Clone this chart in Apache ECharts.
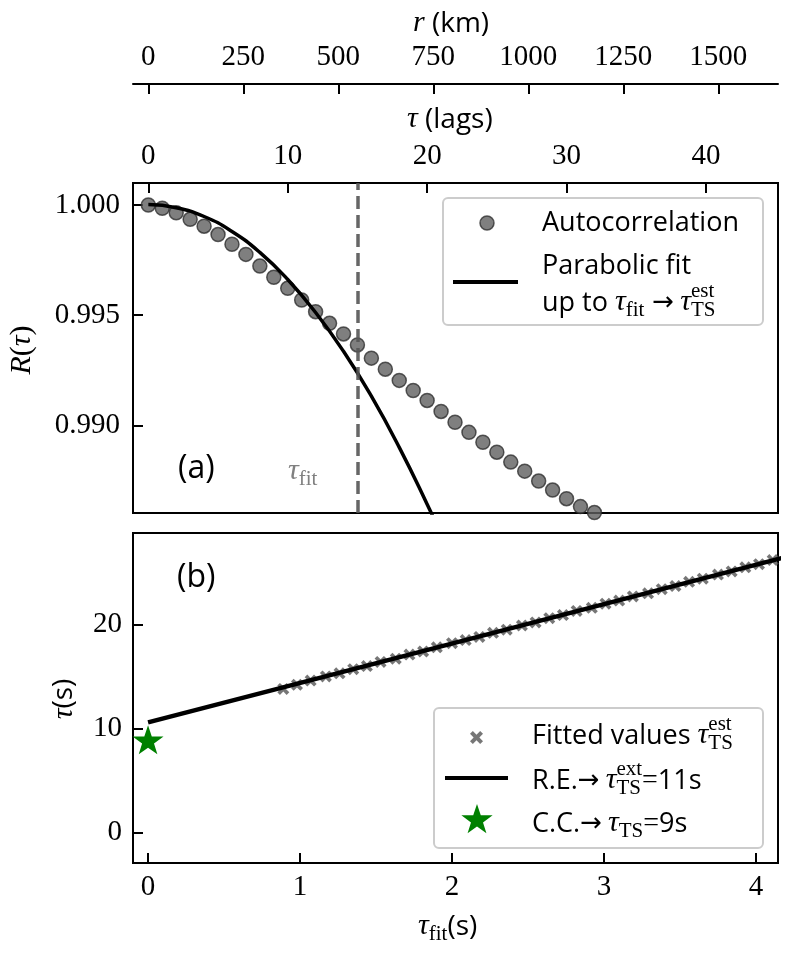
<!DOCTYPE html>
<html><head><meta charset="utf-8">
<script src="https://cdn.jsdelivr.net/npm/echarts@6/dist/echarts.min.js"></script>
<style>html,body{margin:0;padding:0;background:#fff}#c{width:788px;height:955px}</style>
</head><body><div id="c"></div>
<script>
// ---------------- data ----------------
const lags = [0,1,2,3,4,5,6,7,8,9,10,11,12,13,14,15,16,17,18,19,20,21,22,23,24,25,26,27,28,29,30,31,32];
const acf = [1.00000,0.99985,0.99965,0.99935,0.99904,0.99866,0.99822,0.99776,0.99723,0.99672,0.99622,0.99569,0.99516,0.99463,0.99415,0.99365,0.99305,0.99255,0.99204,0.99158,0.99113,0.99063,0.99014,0.98968,0.98923,0.98878,0.98833,0.98792,0.98747,0.98706,0.98667,0.98631,0.98604];
const fitLags = [0,2,4,6,8,10,12,14,16,18,20,21];
const fitR = [1.00002,0.99988,0.99948,0.99880,0.99785,0.99662,0.99512,0.99336,0.99132,0.98900,0.98642,0.98503];
const tauFitLag = 15;
const lagTicks = [0,10,20,30,40];
const rTicks = [0,250,500,750,1000,1250,1500];
const corrTicks = [0.990,0.995,1.000];
const tfitX = [0.89,0.98,1.07,1.17,1.26,1.35,1.44,1.53,1.63,1.72,1.81,1.90,2.00,2.09,2.18,2.27,2.36,2.46,2.55,2.64,2.73,2.82,2.92,3.01,3.10,3.19,3.29,3.38,3.47,3.56,3.65,3.75,3.84,3.93,4.02,4.11];
const tfitY = [13.8,14.2,14.6,15.0,15.3,15.7,16.0,16.4,16.7,17.1,17.4,17.8,18.2,18.5,18.8,19.2,19.5,19.9,20.2,20.6,20.9,21.3,21.6,22.0,22.3,22.7,23.0,23.4,23.7,24.1,24.4,24.8,25.1,25.5,25.8,26.2];
const reX = [0, 4.2];
const reY = [10.58, 26.5];
const ccX = [0];
const ccY = [8.9];
const tauFitTicks = [0,1,2,3,4];
const tauTicks = [0,10,20];

// ---------------- style ----------------
const SANS = '"Open Sans", sans-serif';
const SERIF = '"Liberation Serif", serif';
const ARROWF = '"DejaVu Sans", sans-serif';
const STAR_PTS = [[50,0],[61.8,35.1],[98.9,35.1],[68.8,57.6],[79.4,91.6],[50,70.7],[20.6,91.6],[31.2,57.6],[1.1,35.1],[38.2,35.1]];
const X_PTS = [[0,2.2],[2.2,0],[5,2.8],[7.8,0],[10,2.2],[7.2,5],[10,7.8],[7.8,10],[5,7.2],[2.2,10],[0,7.8],[2.8,5]];
function ptsToPath(p){ return 'path://M' + p.map(q=>q[0]+','+q[1]).join(' L') + ' Z'; }
function ptsAt(p, x, y, s){ return p.map(q=>[x + q[0]*s, y + q[1]*s]); }
const STAR = ptsToPath(STAR_PTS);
const XMARK = ptsToPath(X_PTS);
const dotFill = 'rgba(95,95,95,0.8)', dotStroke = 'rgba(40,40,40,0.75)';
const crossFill = 'rgba(85,85,85,0.8)';

const ctx = document.createElement('canvas').getContext('2d');
function measure(t, style, size, fam){ ctx.font = style + ' ' + size + 'px ' + fam; return ctx.measureText(t).width; }
function txt(x, base, t, fam, size, style, color){
  return {type:'text', x:x, y: base - 0.3*size, silent:true, z:100,
    style:{text:t, fontFamily:fam, fontSize:size, fontStyle:style, fill:color, align:'left', verticalAlign:'middle'}};
}
function mathRun(x0, base, parts, color){
  color = color || '#000';
  const out = []; let x = x0;
  for (const p of parts){
    const fam = p.f === 's' ? SANS : (p.f === 'a' ? ARROWF : SERIF);
    const st = p.it ? 'italic' : 'normal';
    const w = measure(p.t, st, p.s, fam);
    out.push(txt(x, base + (p.dy||0), p.t, fam, p.s, st, color));
    let adv = w;
    if (p.sup){
      out.push(txt(x, base + p.sup.dy, p.sup.t, SERIF, p.sup.s, 'normal', color));
      adv = Math.max(w, measure(p.sup.t, 'normal', p.sup.s, SERIF));
    }
    x += adv + (p.gap||0);
  }
  return out;
}
const TAU = {t:'τ', it:true, s:30};
const SUBFIT = {t:'fit', s:21, dy:6};
const ARROW = {t:'→', f:'a', s:26, gap:6};

const graphics = [];
// legend (a)
graphics.push({type:'rect', z:50, silent:true, shape:{x:443, y:198, width:320, height:127, r:5}, style:{fill:'rgba(255,255,255,0.85)', stroke:'#cccccc', lineWidth:2}});
graphics.push({type:'circle', z:51, silent:true, shape:{cx:487, cy:223, r:7}, style:{fill:dotFill, stroke:dotStroke, lineWidth:1.5}});
graphics.push({type:'line', z:51, silent:true, shape:{x1:453, y1:282, x2:518, y2:282}, style:{stroke:'#000', lineWidth:4}});
graphics.push(...mathRun(542, 231, [{t:'Autocorrelation', f:'s', s:27}]));
graphics.push(...mathRun(542, 274, [{t:'Parabolic fit', f:'s', s:27}]));
graphics.push(...mathRun(542, 311, [{t:'up to ', f:'s', s:27}, TAU, {t:'fit', s:21, dy:6, gap:8}, ARROW, TAU, {t:'TS', s:21, dy:6, sup:{t:'est', s:21, dy:-13}}]));
// legend (b)
graphics.push({type:'rect', z:50, silent:true, shape:{x:434, y:708, width:329, height:140, r:5}, style:{fill:'rgba(255,255,255,0.85)', stroke:'#cccccc', lineWidth:2}});
graphics.push({type:'polygon', z:51, silent:true, shape:{points:ptsAt(X_PTS, 470, 731, 1.3)}, style:{fill:crossFill}});
graphics.push({type:'line', z:51, silent:true, shape:{x1:445, y1:778, x2:508, y2:778}, style:{stroke:'#000', lineWidth:4}});
graphics.push({type:'polygon', z:51, silent:true, shape:{points:ptsAt(STAR_PTS, 461, 804, 0.32)}, style:{fill:'#008000'}});
graphics.push(...mathRun(532, 744, [{t:'Fitted values ', f:'s', s:27}, TAU, {t:'TS', s:21, dy:6, sup:{t:'est', s:21, dy:-13}}]));
graphics.push(...mathRun(532, 789, [{t:'R.E.', f:'s', s:27}, ARROW, TAU, {t:'TS', s:21, dy:6, sup:{t:'ext', s:21, dy:-13}}, {t:'=', s:28}, {t:'11s', f:'s', s:27}]));
graphics.push(...mathRun(532, 832, [{t:'C.C.', f:'s', s:27}, ARROW, TAU, {t:'TS', s:21, dy:6}, {t:'=', s:28}, {t:'9s', f:'s', s:27}]));
// panel labels
graphics.push(...mathRun(178, 478, [{t:'(a)', f:'s', s:32}]));
graphics.push(...mathRun(177, 587, [{t:'(b)', f:'s', s:32}]));
graphics.push(...mathRun(288, 480, [TAU, SUBFIT], '#808080'));
// axis names
graphics.push(...mathRun(413, 32, [{t:'r', it:true, s:30}, {t:' (km)', f:'s', s:28}]));
graphics.push(...mathRun(407, 128, [TAU, {t:' (lags)', f:'s', s:28}]));
graphics.push(...mathRun(418, 935, [TAU, SUBFIT, {t:'(s)', f:'s', s:28}]));
graphics.push({type:'text', x:22, y:350, rotation:Math.PI/2, silent:true, z:100, style:{text:'{i|R}{n|(}{i|τ}{n|)}', align:'center', verticalAlign:'middle',
  rich:{i:{fontFamily:SERIF, fontStyle:'italic', fontSize:30, fill:'#000', color:'#000'}, n:{fontFamily:SERIF, fontSize:30, fill:'#000', color:'#000'}}}});
graphics.push({type:'text', x:64, y:699, rotation:Math.PI/2, silent:true, z:100, style:{text:'{i|τ}{s|(s)}', align:'center', verticalAlign:'middle',
  rich:{i:{fontFamily:SERIF, fontStyle:'italic', fontSize:30, fill:'#000', color:'#000'}, s:{fontFamily:SANS, fontSize:28, fill:'#000', color:'#000'}}}});

const tickLabel = {fontFamily:SERIF, fontSize:29, color:'#000', formatter:v=>String(v)};
const axLine = {show:true, onZero:false, lineStyle:{color:'#000', width:2}};
function tick(vals){ return {show:true, inside:true, length:10, lineStyle:{color:'#000', width:2}, customValues:vals}; }

const option = {
  animation:false,
  backgroundColor:'#fff',
  grid:[
    {left:133, top:183, width:645, height:330, show:true, borderColor:'#000', borderWidth:2, backgroundColor:'transparent'},
    {left:133, top:533, width:645, height:330, show:true, borderColor:'#000', borderWidth:2, backgroundColor:'transparent'}
  ],
  xAxis:[
    {gridIndex:0, type:'value', position:'top', min:-1.10, max:45.17, axisLine:axLine, axisTick:tick(lagTicks),
      axisLabel:Object.assign({}, tickLabel, {customValues:lagTicks, margin:12}), splitLine:{show:false}},
    {gridIndex:0, type:'value', position:'top', offset:99, min:-40.3, max:1657, axisLine:axLine, axisTick:tick(rTicks),
      axisLabel:Object.assign({}, tickLabel, {customValues:rTicks, margin:12}), splitLine:{show:false}},
    {gridIndex:1, type:'value', position:'bottom', min:-0.099, max:4.145, axisLine:axLine, axisTick:tick(tauFitTicks),
      axisLabel:Object.assign({}, tickLabel, {customValues:tauFitTicks, margin:10}), splitLine:{show:false}}
  ],
  yAxis:[
    {gridIndex:0, type:'value', min:0.98602, max:1.0010, axisLine:axLine, axisTick:tick(corrTicks),
      axisLabel:Object.assign({}, tickLabel, {customValues:corrTicks, margin:13, formatter:v=>v.toFixed(3)}), splitLine:{show:false}},
    {gridIndex:1, type:'value', min:-2.95, max:28.8, axisLine:axLine, axisTick:tick(tauTicks),
      axisLabel:Object.assign({}, tickLabel, {customValues:tauTicks, margin:11}), splitLine:{show:false}}
  ],
  series:[
    {name:'Autocorrelation', type:'scatter', xAxisIndex:0, yAxisIndex:0, z:2, symbolSize:14,
      data:lags.map((l,i)=>[l, acf[i]]),
      itemStyle:{color:dotFill, borderColor:dotStroke, borderWidth:1.5, opacity:1},
      markLine:{silent:true, symbol:'none', label:{show:false}, data:[{xAxis:tauFitLag}],
        lineStyle:{color:'rgba(85,85,85,0.9)', width:3.5, type:[13,6]}}},
    {name:'Parabolic fit', type:'line', xAxisIndex:0, yAxisIndex:0, z:4, smooth:true, showSymbol:false, clip:true,
      data:fitLags.map((l,i)=>[l, fitR[i]]), lineStyle:{color:'#000', width:3.5}},
    {name:'Fitted values', type:'scatter', xAxisIndex:2, yAxisIndex:1, z:2, symbol:XMARK, symbolSize:12,
      data:tfitX.map((x,i)=>[x, tfitY[i]]), itemStyle:{color:crossFill, opacity:1}},
    {name:'R.E.', type:'line', xAxisIndex:2, yAxisIndex:1, z:4, showSymbol:false, clip:true,
      data:reX.map((x,i)=>[x, reY[i]]), lineStyle:{color:'#000', width:4.5}},
    {name:'C.C.', type:'scatter', xAxisIndex:2, yAxisIndex:1, z:5, symbol:STAR, symbolKeepAspect:true, symbolSize:31,
      data:ccX.map((x,i)=>[x, ccY[i]]), itemStyle:{color:'#008000', opacity:1}}
  ],
  graphic:graphics
};
const chart = echarts.init(document.getElementById('c'), null, {renderer:'canvas'});
chart.setOption(option);
</script></body></html>
